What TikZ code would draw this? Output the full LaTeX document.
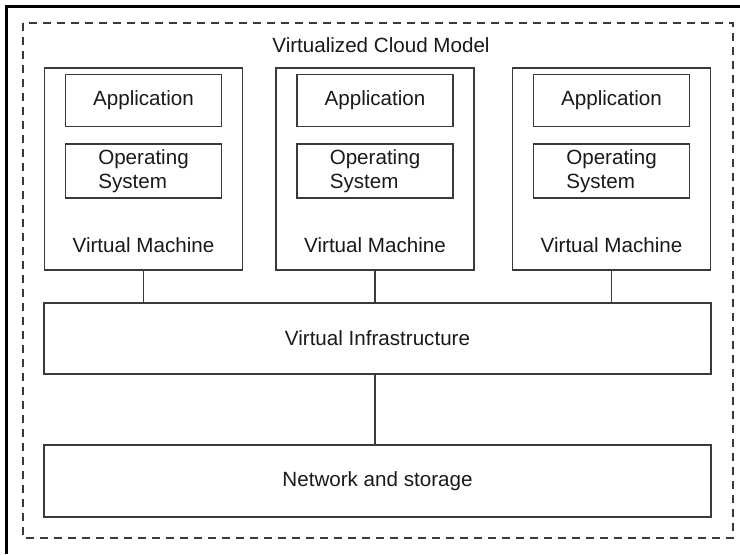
\documentclass[tikz,border=0pt]{standalone}
\usepackage{fontspec}
\setmainfont{Liberation Sans}
\usepackage{xcolor}
\definecolor{cloud-line}{HTML}{3A3A3A}
\definecolor{cloud-text}{HTML}{1A1A1A}
\usepackage{tikz}

\tikzset{
    box/.style={draw=cloud-line, line width=0.65pt, rectangle, inner sep=0pt, text=cloud-text},
    vmbox/.style={box, minimum width=99pt, minimum height=101pt},
    layerbox/.style={box, minimum width=78pt, minimum height=26pt},
    wide/.style={box, minimum width=333.5pt, minimum height=35.5pt},
    label/.style={text=cloud-text, inner sep=0pt}
}

\begin{document}
\begin{tikzpicture}[x=0.5pt, y=-0.5pt, font=\fontsize{10.3}{12}\selectfont]

    % Canvas
    \useasboundingbox (0, 0) rectangle (740, 554);
    \fill[white] (0, 0) rectangle (740, 554);

    % Frame
    \draw[black, line width=1.5pt] (6, 554) -- (6, 6) -- (740, 6);

    % Cloud
    \draw[cloud-line, line width=0.6pt, dash pattern=on 4pt off 3pt] (23, 23) rectangle (733, 538);
    \node[label] (title) at (381, 45) {Virtualized Cloud Model};

    % Virtual machines
    \foreach \i/\x in {1/143.5, 2/375, 3/611.5} {
        \node[vmbox] (vm\i) at (\x, 169) {};
        \node[layerbox] (app\i) at (\x, 100.5) {Application};
        \node[layerbox, minimum height=27pt, align=left] (os\i) at (\x, 171) {Operating\\System};
        \node[label] (vmlabel\i) at (\x, 245) {Virtual Machine};
    }

    % Infrastructure
    \node[wide] (infra) at (377.5, 338.5) {Virtual Infrastructure};
    \node[wide, minimum height=36pt] (storage) at (377.5, 481) {Network and storage};

    % Links
    \foreach \i in {1, 2, 3} {
        \draw[cloud-line, line width=0.65pt] (vm\i.south) -- (vm\i.south |- infra.north);
    }
    \draw[cloud-line, line width=0.65pt] (vm2.south |- infra.south) -- (vm2.south |- storage.north);

\end{tikzpicture}
\end{document}
